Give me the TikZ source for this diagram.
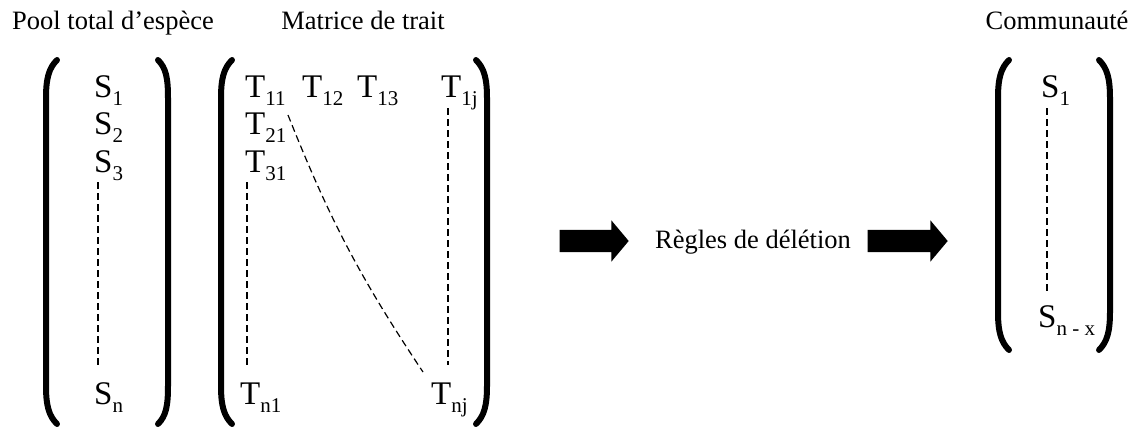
\documentclass[tikz,border=0pt]{standalone}
\usepackage{fontspec}
\setmainfont{Liberation Serif}
\usetikzlibrary{arrows.meta,positioning,calc,shapes.arrows}

% lowered index after a letter
\newcommand{\ix}[1]{\raisebox{-8pt}{\fontsize{21}{21}\selectfont #1}}

\begin{document}
\begin{tikzpicture}[
  x=1pt,
  y=-1pt,
  font=\fontsize{33}{33}\selectfont,
  entry/.style={
    anchor=base west,
    inner sep=0pt
  },
  heading/.style={
    anchor=base,
    inner sep=0pt,
    font=\fontsize{26.5}{26.5}\selectfont
  },
  paren/.style={
    line width=6pt,
    line cap=round
  },
  dots/.style={
    dash pattern=on 7pt off 4pt,
    line width=1.2pt
  },
  bigarrow/.style={
    single arrow,
    fill=black,
    draw=none,
    inner sep=0pt,
    inner ysep=11pt,
    minimum width=41pt,
    single arrow tip angle=100,
    single arrow head extend=9.5pt
  }
]
\useasboundingbox (0,0) rectangle (1133,428);

% Headings
\node[heading] (pooltitle) at (113,30) {Pool total d’espèce};
\node[heading] (mattitle) at (363,30) {Matrice de trait};
\node[heading] (comtitle) at (1057,30) {Communauté};

% Species pool
\draw[paren] (57,60) .. controls (49,68) and (46,78) .. (46,98)
  -- (46,386) .. controls (46,406) and (49,416) .. (57,424);
\draw[paren] (158,60) .. controls (166,68) and (168,78) .. (168,98)
  -- (168,386) .. controls (168,406) and (166,416) .. (158,424);

\node[entry] (s1) at (94,97) {S\ix{1}};
\node[entry] (s2) at (94,134) {S\ix{2}};
\node[entry] (s3) at (94,172) {S\ix{3}};
\node[entry] (sn) at (94,404) {S\ix{n}};

\draw[dots] ($(s3.base west)+(4,10)$) -- ($(sn.base west)+(4,-37)$);

% Trait matrix
\draw[paren] (232,60) .. controls (224,68) and (221,78) .. (221,98)
  -- (221,386) .. controls (221,406) and (224,416) .. (232,424);
\draw[paren] (476,60) .. controls (484,68) and (487,78) .. (487,98)
  -- (487,386) .. controls (487,406) and (484,416) .. (476,424);

\node[entry] (t11) at (245,97) {T\ix{11}};
\node[entry] (t12) at (302,97) {T\ix{12}};
\node[entry] (t13) at (357,97) {T\ix{13}};
\node[entry] (t1j) at (441,97) {T\ix{1j}};
\node[entry] (t21) at (245,134) {T\ix{21}};
\node[entry] (t31) at (245,172) {T\ix{31}};
\node[entry] (tn1) at (240,404) {T\ix{n1}};
\node[entry] (tnj) at (431,404) {T\ix{nj}};

\draw[dots] ($(t31.base west)+(2,10)$) -- ($(tn1.base west)+(7,-37)$);
\draw[dots] ($(t1j.base west)+(7,11)$) -- ($(tnj.base west)+(17,-39)$);
\draw[dots] ($(t11.base west)+(43,18)$) to[bend right=6] ($(tnj.base west)+(-8,-32)$);

% Deletion step
\node[bigarrow,minimum height=69pt] (arrA) at (589.5,241) {};
\node[heading] (rules) at (753,248) {Règles de délétion};
\node[bigarrow,minimum height=80pt] (arrB) at (903,241) {};

% Community
\draw[paren] (1009,60) .. controls (1001,68) and (998,78) .. (998,98)
  -- (998,312) .. controls (998,332) and (1001,342) .. (1009,350);
\draw[paren] (1099,60) .. controls (1107,68) and (1110,78) .. (1110,98)
  -- (1110,312) .. controls (1110,332) and (1107,342) .. (1099,350);

\node[entry] (c1) at (1041,98) {S\ix{1}};
\node[entry] (cn) at (1038,327) {S\ix{n - x}};

\draw[dots] ($(c1.base west)+(6,10)$) -- ($(cn.base west)+(9,-34)$);

\end{tikzpicture}
\end{document}
